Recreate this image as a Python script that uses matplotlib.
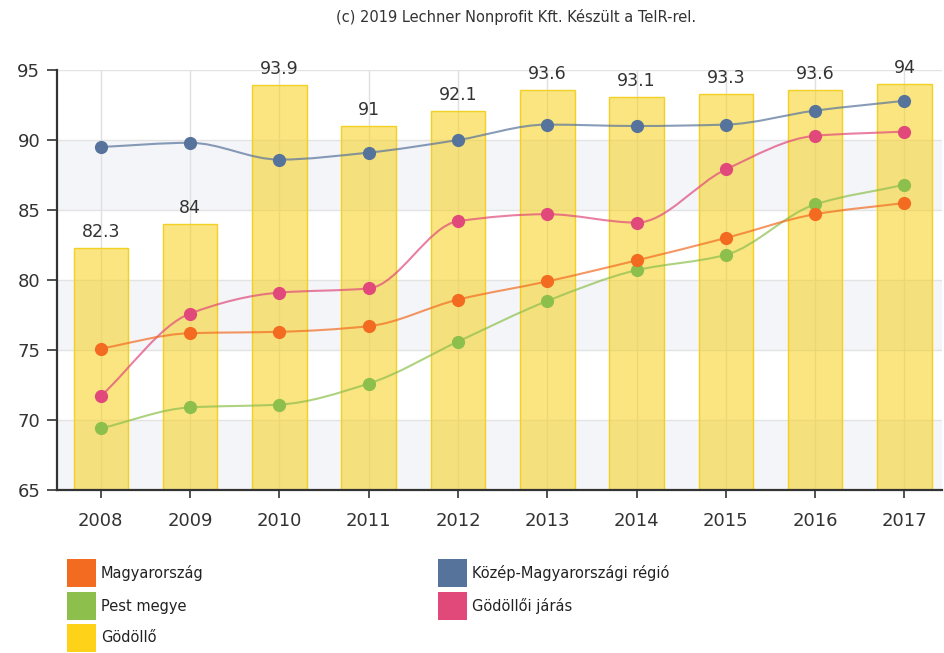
import numpy as np
import matplotlib
matplotlib.use("Agg")
import matplotlib.pyplot as plt
from matplotlib.path import Path
from matplotlib.patches import PathPatch, Rectangle

years = ["2008", "2009", "2010", "2011", "2012", "2013", "2014", "2015", "2016", "2017"]
godollo = [82.3, 84, 93.9, 91, 92.1, 93.6, 93.1, 93.3, 93.6, 94]
kozep = [89.5, 89.8, 88.6, 89.1, 90.0, 91.1, 91.0, 91.1, 92.1, 92.8]
jaras = [71.7, 77.6, 79.1, 79.4, 84.2, 84.7, 84.1, 87.9, 90.3, 90.6]
magyar = [75.1, 76.2, 76.3, 76.7, 78.6, 79.9, 81.4, 83.0, 84.7, 85.5]
pest = [69.4, 70.9, 71.1, 72.6, 75.6, 78.5, 80.7, 81.8, 85.4, 86.8]

C_OR = "#F26B21"
C_GR = "#8CBF4B"
C_YE = "#FFD21A"
C_BL = "#56739B"
C_PK = "#E0497A"

fig = plt.figure(figsize=(9.45, 6.53), dpi=100)
ax = fig.add_axes([57/945, 1-490/653, (942-57)/945, 420/653])

x = np.arange(len(years))
ax.set_xlim(-0.49, 9.42)
ax.set_ylim(65, 95)

for lo in (65, 75, 85):
    ax.axhspan(lo, lo+5, color="#F4F5F8", zorder=0, lw=0)
for yv in range(65, 96, 5):
    ax.axhline(yv, color="#E3E3E3", lw=1, zorder=0.5)
for xv in x:
    ax.axvline(xv, color="#E0E0E0", lw=1, zorder=0.5)

bars = ax.bar(x, [g-65 for g in godollo], bottom=65, width=0.61,
              color=(0.97, 0.82, 0.12, 0.56), edgecolor="#F2D024", lw=1, zorder=1)
for xi, g in zip(x, godollo):
    ax.annotate(f"{g:g}", (xi, g), xytext=(0, 5), textcoords="offset points",
                ha="center", va="bottom", fontsize=12.5, color="#333333",
                annotation_clip=False)

def smooth_path(xs, ys):
    xs = np.asarray(xs, float); ys = np.asarray(ys, float)
    n = len(xs)
    d = np.diff(ys) / np.diff(xs)
    m = np.zeros(n)
    m[0] = d[0]; m[-1] = d[-1]
    for i in range(1, n-1):
        if d[i-1]*d[i] <= 0:
            m[i] = 0
        else:
            m[i] = 2/(1/d[i-1] + 1/d[i])
    verts = [(xs[0], ys[0])]
    codes = [Path.MOVETO]
    for i in range(n-1):
        h = xs[i+1]-xs[i]
        verts += [(xs[i]+h/3, ys[i]+m[i]*h/3), (xs[i+1]-h/3, ys[i+1]-m[i+1]*h/3), (xs[i+1], ys[i+1])]
        codes += [Path.CURVE4]*3
    return Path(verts, codes)

series = [(kozep, C_BL), (jaras, C_PK), (pest, C_GR), (magyar, C_OR)]
for i, (vals, col) in enumerate(series):
    ax.add_patch(PathPatch(smooth_path(x, vals), fill=False, edgecolor=col,
                           lw=1.5, alpha=0.7, zorder=3+i*0.1))
    ax.plot(x, vals, "o", color=col, ms=9.5, mew=0, zorder=3.05+i*0.1)

ax.set_xticks(x)
ax.set_xticklabels(years)
ax.set_yticks(range(65, 96, 5))
for s in ("top", "right"):
    ax.spines[s].set_visible(False)
for s in ("left", "bottom"):
    ax.spines[s].set_color("#333333")
    ax.spines[s].set_linewidth(1.6)
    ax.spines[s].set_zorder(5)
ax.tick_params(axis="y", length=7, width=1.2, color="#333333", labelsize=13,
               labelcolor="#333333", pad=5)
ax.tick_params(axis="x", length=6, width=1.2, color="#333333", labelsize=13,
               labelcolor="#333333", pad=10)

fig.text(516/945, 1-17/653, "(c) 2019 Lechner Nonprofit Kft. Készült a TeIR-rel.",
         ha="center", va="center", fontsize=10.5, color="#333333")

legend_items = [
    (67, 573, C_OR, "Magyarország"),
    (67, 606, C_GR, "Pest megye"),
    (67, 638, C_YE, "Gödöllő"),
    (438, 573, C_BL, "Közép-Magyarországi régió"),
    (438, 606, C_PK, "Gödöllői járás"),
]
for lx, ly, col, lab in legend_items:
    fig.patches.append(Rectangle((lx/945, 1-(ly+14)/653), 29/945, 28/653,
                                 transform=fig.transFigure, color=col, lw=0))
    fig.text((lx+34)/945, 1-ly/653, lab, ha="left", va="center", fontsize=10.5,
             color="#222222")

fig.savefig("out.png", dpi=100)
